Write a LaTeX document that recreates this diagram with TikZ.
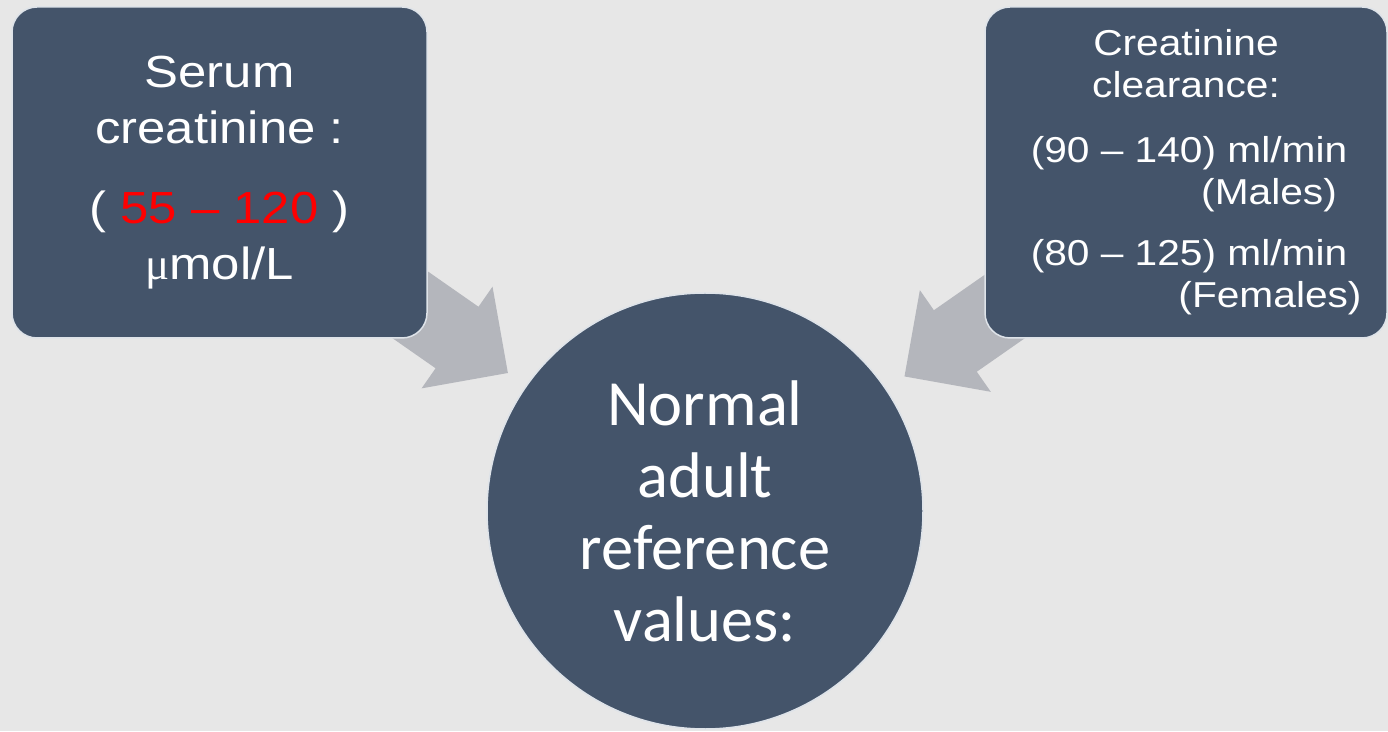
\documentclass[tikz,border=0pt]{standalone}
\usepackage{fontspec}
\newfontfamily\boxfont{Liberation Sans}[FakeStretch=1.13]
\newfontfamily\circfont{Carlito}
\newfontfamily\mufont{Liberation Serif}
\usetikzlibrary{backgrounds,calc}
\definecolor{slate}{RGB}{68,84,106}
\definecolor{paper}{RGB}{231,231,231}
\definecolor{arrowgrey}{RGB}{180,182,188}
\definecolor{rim}{RGB}{222,227,233}

\begin{document}
\begin{tikzpicture}[x=1pt,y=1pt,
		valuebox/.style={draw=rim,line width=1.5pt,fill=slate,rounded corners=25pt,text=white,align=center,inner sep=0pt,minimum height=331pt},
		hub/.style={circle,draw=rim,line width=1.5pt,fill=slate,text=white,align=center,minimum size=436pt,inner sep=0pt,font=\circfont\fontsize{64.5}{72}\selectfont},
		fatarrow/.pic={\fill[arrowgrey] (0,0) -- (-62,62) -- (-62,37.5) -- (-166,37.5) -- (-166,-37.5) -- (-62,-37.5) -- (-62,-62) -- cycle;}]
	\useasboundingbox (0,0) rectangle (1388,731);
	\node[hub] (ref) at (705,220) {Normal\\adult\\reference\\values:};
	\node[valuebox,minimum width=415pt,font=\boxfont\fontsize{45}{56}\selectfont] (serum) at (219.5,558.5) {Serum\\creatinine :\\[24pt]( \textcolor{red}{55 – 120} )\\{\mufont μ}mol/L};
	\node[valuebox,minimum width=402pt,font=\boxfont\fontsize{36}{42}\selectfont] (clear) at (1186,558.5) {Creatinine\\clearance:\\[23pt]\hspace*{6pt}(90 – 140) ml/min\\\makebox[0pt]{\hspace*{166pt}(Males)}\\[19pt]\hspace*{6pt}(80 – 125) ml/min\\\makebox[0pt]{\hspace*{168pt}(Females)}};
	\begin{scope}[on background layer]
		\fill[paper] (0,0) rectangle (1388,731);
		\pic[rotate=-34.9] at ($(ref.center)!1.1!(ref.145.1)$) {fatarrow};
		\pic[rotate=-145.1] at ($(ref.center)!1.1!(ref.34.9)$) {fatarrow};
	\end{scope}
\end{tikzpicture}
\end{document}
